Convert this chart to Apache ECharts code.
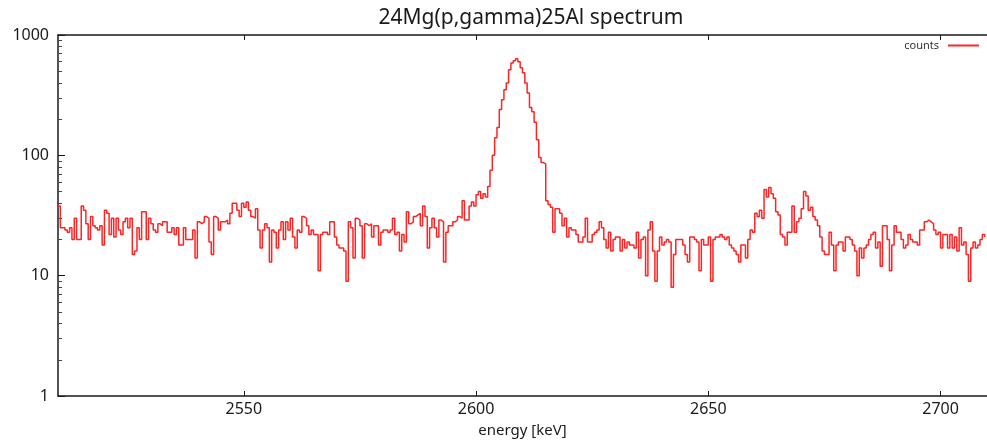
<!DOCTYPE html>
<html>
<head>
<meta charset="utf-8">
<script src="https://cdn.jsdelivr.net/npm/echarts@6/dist/echarts.min.js"></script>
<style>
  html, body { margin: 0; padding: 0; background: #fff; }
  #chart { width: 987px; height: 443px; }
</style>
</head>
<body>
<div id="chart"></div>
<script>
// Spectrum binning: 0.5 keV channels starting at 2510 keV
const binStart = 2510;
const binWidth = 0.5;

// Counts per channel, 2510 - 2710 keV
const counts2510 = [38,25,25,24,23,25,20,30,20,20,38,35,27,20,31,26,25,24,26,18];
const counts2520 = [35,33,22,30,21,30,24,22,28,30,25,30,15,16,25,20,34,34,20,30];
const counts2530 = [27,24,23,27,26,28,28,23,23,25,22,25,18,18,25,20,20,20,24,14];
const counts2540 = [28,27,28,31,30,19,15,31,30,24,28,28,29,27,33,40,40,35,31,40];
const counts2550 = [37,41,35,31,30,36,24,17,24,27,25,13,24,23,17,24,28,20,28,24];
const counts2560 = [30,21,17,24,23,31,30,26,22,24,22,22,11,22,23,23,22,28,28,21];
const counts2570 = [18,17,17,16,9,28,25,14,30,29,26,14,27,26,27,21,26,26,18,23];
const counts2580 = [24,24,23,24,30,22,23,16,22,19,34,27,28,31,32,33,26,38,31,17];
const counts2590 = [25,30,25,21,29,28,13,23,26,26,28,29,31,30,42,29,29,38,41,38];
const counts2600 = [47,50,44,48,45,55,75,100,140,170,240,290,350,400,515,585,610,635,600,535];
const counts2610 = [485,400,330,250,230,188,135,96,87,85,42,39,37,23,36,36,33,26,30,21];
const counts2620 = [25,24,24,22,19,19,21,30,19,19,22,23,24,28,25,20,17,23,16,20];
const counts2630 = [21,21,16,20,17,19,18,18,17,23,14,20,21,10,24,28,16,9,16,21];
const counts2640 = [18,19,20,19,8,15,20,20,20,18,15,13,21,21,20,19,11,20,18,18];
const counts2650 = [21,9,20,21,21,22,21,20,21,18,17,16,15,13,18,18,14,20,24,23];
const counts2660 = [33,31,35,30,52,45,54,48,44,34,32,22,21,18,23,23,38,23,28,30];
const counts2670 = [36,50,46,35,37,31,29,26,21,16,15,15,23,18,11,18,19,19,16,21];
const counts2680 = [21,20,18,16,10,17,14,17,18,20,22,23,17,19,12,26,26,20,11,18];
const counts2690 = [26,23,23,20,17,18,22,20,19,19,18,24,24,28,29,28,27,24,22,23];
const counts2700 = [17,22,22,17,22,17,21,16,25,18,19,15,9,17,19,17,18,20,22,21];

const counts = [].concat(
  counts2510, counts2520, counts2530, counts2540, counts2550,
  counts2560, counts2570, counts2580, counts2590, counts2600,
  counts2610, counts2620, counts2630, counts2640, counts2650,
  counts2660, counts2670, counts2680, counts2690, counts2700
);

// Axis tick values
const xTicks = [2550, 2600, 2650, 2700];
const yMajorTicks = [1, 10, 100, 1000];
const yMinorTicks = [2,3,4,5,6,7,8,9,20,30,40,50,60,70,80,90,200,300,400,500,600,700,800,900];

const seriesData = counts.map((c, i) => [binStart + i * binWidth, c]);

const ink = '#1a1a1a';
const lineRed = '#ff2424';
const plain = v => String(v);

const chart = echarts.init(document.getElementById('chart'), null, { renderer: 'canvas' });

chart.setOption({
  backgroundColor: '#ffffff',
  animation: false,
  title: {
    text: '24Mg(p,gamma)25Al spectrum',
    left: 526,
    textAlign: 'center',
    top: 3,
    textStyle: { fontFamily: 'Noto Sans', fontSize: 21, fontWeight: 'normal', color: ink }
  },
  legend: {
    show: true,
    orient: 'horizontal',
    data: ['counts'],
    right: 8,
    top: 40,
    padding: 0,
    align: 'right',
    itemWidth: 31,
    itemHeight: 2,
    icon: 'rect',
    textStyle: { fontFamily: 'Noto Sans', fontSize: 11, color: '#333', padding: [0, 4, 0, 0] },
    selectedMode: false
  },
  grid: { left: 58, right: -7, top: 35, bottom: 45, containLabel: false },
  xAxis: [
    {
      type: 'value',
      min: 2510,
      max: 2710,
      position: 'bottom',
      name: 'energy [keV]',
      nameLocation: 'middle',
      nameGap: 27,
      nameTextStyle: { fontFamily: 'Noto Sans', fontSize: 15, color: ink },
      axisLine: { show: true, onZero: false, lineStyle: { color: ink, width: 1.5 } },
      axisTick: { show: true, inside: true, length: 5, customValues: xTicks, lineStyle: { color: ink } },
      axisLabel: { customValues: xTicks, formatter: plain, fontFamily: 'Noto Sans', fontSize: 16, color: ink, margin: 5 },
      splitLine: { show: false }
    },
    {
      type: 'value',
      min: 2510,
      max: 2710,
      position: 'top',
      axisLine: { show: true, onZero: false, lineStyle: { color: ink, width: 1.5 } },
      axisTick: { show: true, inside: true, length: 5, customValues: xTicks, lineStyle: { color: ink } },
      axisLabel: { show: false },
      splitLine: { show: false }
    }
  ],
  yAxis: [
    {
      type: 'log',
      logBase: 10,
      min: 1,
      max: 1000,
      position: 'left',
      axisLine: { show: true, onZero: false, lineStyle: { color: ink, width: 1.5 } },
      axisTick: { show: true, inside: true, length: 7, customValues: yMajorTicks, lineStyle: { color: ink } },
      axisLabel: { customValues: yMajorTicks, formatter: plain, fontFamily: 'Noto Sans', fontSize: 16, color: ink, margin: 9 },
      splitLine: { show: false }
    },
    {
      type: 'log',
      logBase: 10,
      min: 1,
      max: 1000,
      position: 'left',
      axisLine: { show: false },
      axisTick: { show: true, inside: true, length: 4, customValues: yMinorTicks, lineStyle: { color: '#444' } },
      axisLabel: { show: false },
      splitLine: { show: false }
    }
  ],
  series: [
    {
      name: 'counts',
      type: 'line',
      step: 'end',
      xAxisIndex: 0,
      yAxisIndex: 0,
      data: seriesData,
      showSymbol: false,
      symbol: 'none',
      clip: true,
      lineStyle: { color: lineRed, width: 1.5 },
      itemStyle: { color: lineRed }
    }
  ]
});
</script>
</body>
</html>
